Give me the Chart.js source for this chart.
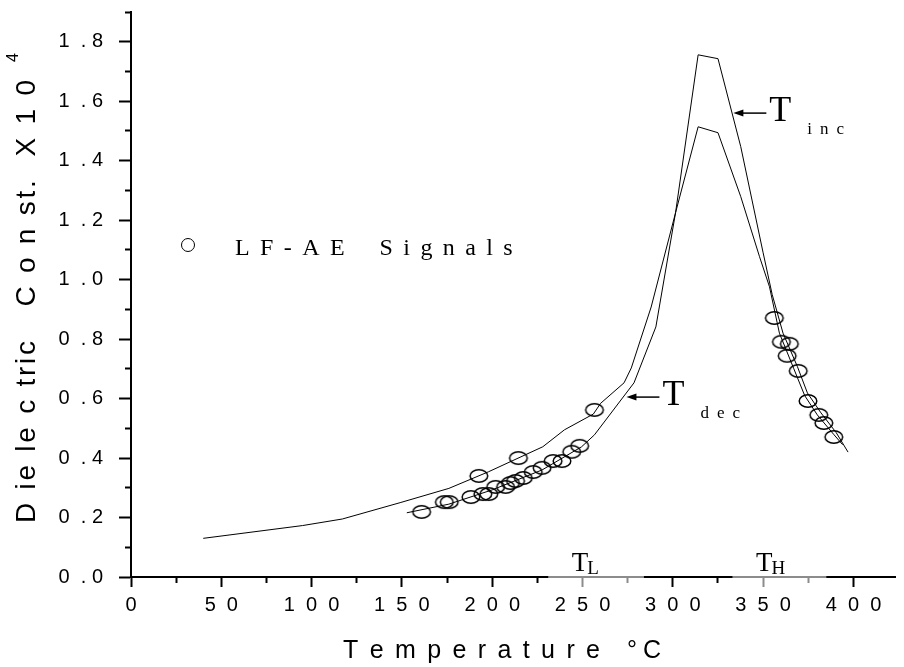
<!DOCTYPE html>
<html>
<head>
<meta charset="utf-8">
<script src="https://cdn.jsdelivr.net/npm/chart.js@4.4.0/dist/chart.umd.min.js"></script>
<style>
  html, body { margin: 0; padding: 0; background: #fff; }
  #caixa { width: 904px; height: 667px; position: relative; }
</style>
</head>
<body>
<div id="caixa"><canvas id="grafico"></canvas></div>
<script>
// Curva T inc (aquecimento)
const tempInc = [40, 95, 117, 149, 176, 198, 228, 240, 256, 260, 273, 277, 288, 301.5, 314, 325, 337.6, 350, 355, 361, 369, 374.5, 382, 390.5, 397];
const constInc = [0.13, 0.173, 0.195, 0.25, 0.298, 0.354, 0.438, 0.495, 0.548, 0.584, 0.653, 0.703, 0.908, 1.225, 1.756, 1.743, 1.447, 1.09, 0.95, 0.82, 0.707, 0.619, 0.552, 0.485, 0.42];

// Curva T dec (resfriamento)
const tempDec = [152.7, 176, 200, 227.6, 249.5, 256.6, 278.5, 290.6, 301.5, 314, 325, 337.6, 348, 353.5, 359, 367, 373, 380, 389, 394];
const constDec = [0.216, 0.245, 0.293, 0.36, 0.438, 0.478, 0.653, 0.841, 1.225, 1.514, 1.494, 1.279, 1.077, 0.976, 0.82, 0.7, 0.61, 0.545, 0.48, 0.445];

// Sinais LF-AE
const tempSinal = [160.9, 173.5, 176.2, 188.2, 192.6, 194.8, 198.1, 201.9, 207.4, 210.1, 212.9, 217.2, 222.7, 227.6, 214.5, 233.7, 238.6, 244, 248.4, 256.6,
                   356.2, 360.1, 364.5, 363.3, 369.4, 374.8, 380.8, 383.6, 389.1];
const constSinal = [0.219, 0.252, 0.252, 0.269, 0.340, 0.279, 0.279, 0.303, 0.303, 0.316, 0.323, 0.333, 0.353, 0.367, 0.400, 0.390, 0.390, 0.421, 0.441, 0.562,
                    0.871, 0.791, 0.784, 0.744, 0.693, 0.592, 0.545, 0.518, 0.471];

// Faixas cinzas no eixo x (T L e T H)
const faixaInicio = [231, 333];
const faixaFim = [284, 385];
const faixaRotulo = ['L', 'H'];
const faixaTexto = [244, 346];

// Setas de anotação
const setaTemp = [333.5, 274.3];
const setaConst = [1.56, 0.605];
const setaIndice = ['inc', 'dec'];

const tituloX = 'T e m p e r a t u r e';
const tituloY = 'D ie le c tric   C o n st.  X 1 0';
const textoLegenda = 'LF-AE Signals';

// espaço que o canvas não junta
const esp = '\u00a0';

// Marcador elíptico dos sinais
const elipse = document.createElement('canvas');
elipse.width = 22;
elipse.height = 16;
const ce = elipse.getContext('2d');
ce.strokeStyle = '#000';
ce.lineWidth = 1.5;
ce.beginPath();
ce.ellipse(11, 8, 8.8, 6.2, 0, 0, Math.PI * 2);
ce.stroke();

const serif = '"Liberation Serif", "Times New Roman", serif';
const sans = '"Liberation Sans", Arial, sans-serif';

function larguraEspacada(ctx, txt, gap) {
    let w = 0;
    for (const ch of txt) w += ctx.measureText(ch).width + gap;
    return w - gap;
}
function escreveEspacado(ctx, txt, x, y, gap) {
    let px = x;
    for (const ch of txt) {
        ctx.fillText(ch, px, y);
        px += ctx.measureText(ch).width + gap;
    }
    return px - gap;
}

function naFaixa(v) {
    for (let i = 0; i < faixaInicio.length; i++) {
        if (v >= faixaInicio[i] && v <= faixaFim[i]) return true;
    }
    return false;
}

const extras = {
    id: 'extras',
    afterDraw(chart) {
        const c = chart.ctx;
        const xs = chart.scales.x, ys = chart.scales.y;
        const area = chart.chartArea;
        c.save();

        // trechos cinzas do eixo
        c.strokeStyle = '#8c8c8c';
        c.lineWidth = 2;
        for (let i = 0; i < faixaInicio.length; i++) {
            c.beginPath();
            c.moveTo(xs.getPixelForValue(faixaInicio[i]), area.bottom);
            c.lineTo(xs.getPixelForValue(faixaFim[i]), area.bottom);
            c.stroke();
        }

        // T L / T H
        c.fillStyle = '#000';
        c.textBaseline = 'alphabetic';
        for (let i = 0; i < faixaRotulo.length; i++) {
            const px = xs.getPixelForValue(faixaTexto[i]);
            c.font = '27px ' + serif;
            c.fillText('T', px, area.bottom - 6);
            const w = c.measureText('T').width;
            c.font = '19px ' + serif;
            c.fillText(faixaRotulo[i], px + w - 1, area.bottom - 3);
        }

        // setas T inc / T dec
        for (let i = 0; i < setaTemp.length; i++) {
            const tx = xs.getPixelForValue(setaTemp[i]);
            const ty = ys.getPixelForValue(setaConst[i]);
            c.strokeStyle = '#000';
            c.lineWidth = 1.5;
            c.beginPath();
            c.moveTo(tx + 6, ty);
            c.lineTo(tx + 33, ty);
            c.stroke();
            c.beginPath();
            c.moveTo(tx, ty);
            c.lineTo(tx + 10, ty - 3.5);
            c.lineTo(tx + 10, ty + 3.5);
            c.closePath();
            c.fill();
            c.font = '36px ' + serif;
            c.fillText('T', tx + 36, ty + 8);
            c.font = '17px ' + serif;
            escreveEspacado(c, setaIndice[i], tx + 74, ty + 21, 8);
        }

        // legenda
        c.beginPath();
        c.lineWidth = 1;
        c.arc(area.left + 57, area.top + 233, 6.5, 0, Math.PI * 2);
        c.stroke();
        c.font = '24px ' + serif;
        escreveEspacado(c, textoLegenda.split('').join(' ').replace('E   S', 'E    S'), area.left + 104, area.top + 243, 2.2);

        // título do eixo x
        c.font = '25px ' + sans;
        const natX = larguraEspacada(c, tituloX, 0);
        const gapX = (257 - natX) / ([...tituloX].length - 1);
        const fimX = escreveEspacado(c, tituloX, 343, 658, gapX);
        c.fillText('°', fimX + 27, 658);
        c.fillText('C', fimX + 43, 658);

        // título do eixo y
        c.translate(35, 523);
        c.rotate(-Math.PI / 2);
        c.font = '28px ' + sans;
        const nat = larguraEspacada(c, tituloY, 0);
        const n = [...tituloY].length;
        const gap = (443 - nat) / (n - 1);
        const fimY = escreveEspacado(c, tituloY, 0, 0, gap);
        c.font = '16px ' + sans;
        c.fillText('4', fimY + 18, -17);
        c.restore();
    }
};

const ctx = document.getElementById('grafico').getContext('2d');

const grafico = new Chart(ctx, {
    type: 'line',
    data: {
        datasets: [
            {
                label: 'T inc',
                data: tempInc.map((t, i) => ({ x: t, y: constInc[i] })),
                borderColor: '#000',
                borderWidth: 1,
                pointRadius: 0,
                tension: 0,
                fill: false
            },
            {
                label: 'T dec',
                data: tempDec.map((t, i) => ({ x: t, y: constDec[i] })),
                borderColor: '#000',
                borderWidth: 1,
                pointRadius: 0,
                tension: 0,
                fill: false
            },
            {
                label: 'LF-AE Signals',
                type: 'scatter',
                data: tempSinal.map((t, i) => ({ x: t, y: constSinal[i] })),
                pointStyle: elipse,
                pointRadius: 8,
                showLine: false
            }
        ]
    },
    options: {
        responsive: true,
        maintainAspectRatio: false,
        animation: false,
        layout: { padding: { top: 0, right: 0, left: 0, bottom: 0 } },
        plugins: {
            legend: { display: false },
            tooltip: { enabled: false }
        },
        scales: {
            x: {
                type: 'linear',
                position: 'bottom',
                min: 0,
                max: 423,
                afterFit: s => { s.height = 90; },
                afterBuildTicks: s => { s.ticks = s.ticks.filter(t => t.value <= 400 && t.value % 25 === 0); },
                border: { color: '#000', width: 2 },
                grid: {
                    drawOnChartArea: false,
                    tickLength: 10,
                    tickWidth: 2,
                    tickColor: c => naFaixa(c.tick.value) ? '#8c8c8c' : '#000',
                    tickBorderDash: c => c.tick.value % 50 === 0 ? [] : [5, 30]
                },
                ticks: {
                    stepSize: 25,
                    includeBounds: false,
                    autoSkip: false,
                    maxRotation: 0,
                    padding: 6,
                    color: '#000',
                    font: { family: sans, size: 20 },
                    callback: v => v % 50 === 0 ? String(v).split('').join(esp + esp) : ''
                }
            },
            y: {
                type: 'linear',
                min: 0,
                max: 1.9,
                afterFit: s => { s.width = 131; s.paddingTop = 12; s.paddingBottom = 0; },
                border: { color: '#000', width: 2 },
                grid: {
                    drawOnChartArea: false,
                    tickLength: 12,
                    tickWidth: 2,
                    tickColor: '#000',
                    tickBorderDash: c => Math.round(c.tick.value * 10) % 2 === 0 ? [] : [0, 6, 5, 0]
                },
                ticks: {
                    stepSize: 0.1,
                    autoSkip: false,
                    padding: 16,
                    color: '#000',
                    font: { family: sans, size: 20 },
                    callback: v => {
                        const k = Math.round(v * 10);
                        if (k % 2 !== 0) return '';
                        const s = (k / 10).toFixed(1);
                        return s[0] + esp + esp + '.' + esp + s[2];
                    }
                }
            }
        }
    },
    plugins: [extras]
});
</script>
</body>
</html>
